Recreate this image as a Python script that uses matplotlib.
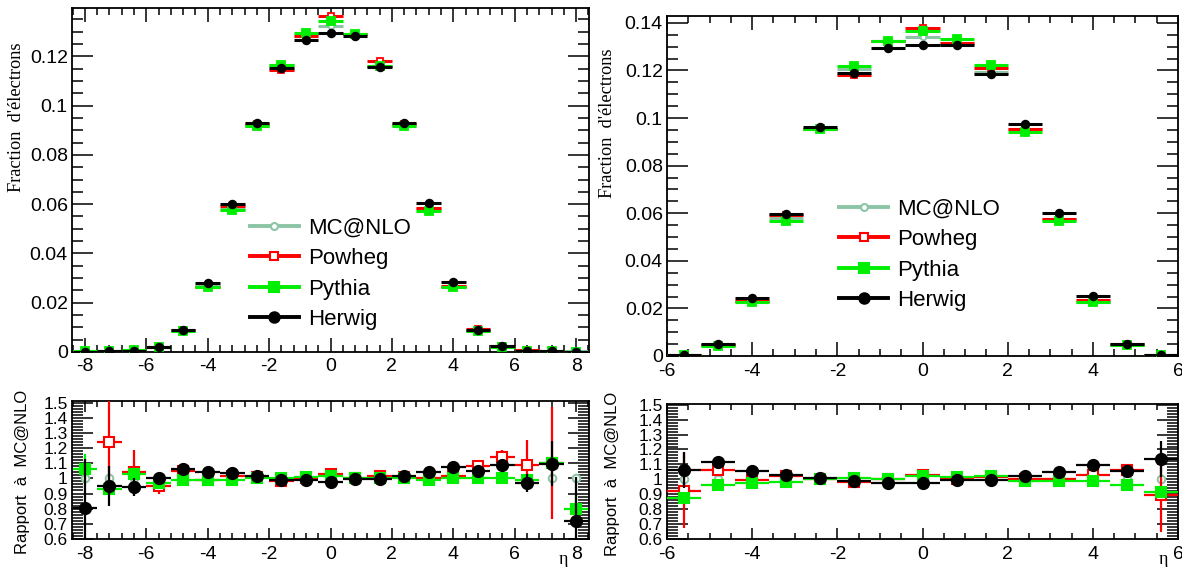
import numpy as np
import matplotlib
matplotlib.use("Agg")
import matplotlib.pyplot as plt
from matplotlib.ticker import MultipleLocator, FuncFormatter
from matplotlib.lines import Line2D

plt.rcParams["axes.unicode_minus"] = False
plt.rcParams["font.family"] = ["Liberation Sans", "DejaVu Sans"]

# ---------------- data ----------------
labels = ["MC@NLO", "Powheg", "Pythia", "Herwig"]

eta_left = [-8.0, -7.2, -6.4, -5.6, -4.8, -4.0, -3.2, -2.4, -1.6, -0.8, 0.0,
            0.8, 1.6, 2.4, 3.2, 4.0, 4.8, 5.6, 6.4, 7.2, 8.0]
mcnlo_left = [0.00025, 0.0003, 0.0006, 0.0021, 0.0085, 0.0268, 0.0582, 0.0917, 0.1166, 0.1282, 0.1322,
              0.1292, 0.1162, 0.0917, 0.0580, 0.0265, 0.0085, 0.0021, 0.0006, 0.0003, 0.00025]
ratio_powheg_left = [0.0, 1.24, 1.04, 0.95, 1.05, 0.99, 1.015, 1.01, 0.98, 1.0, 1.03,
                     1.0, 1.015, 1.01, 1.005, 1.015, 1.08, 1.14, 1.086, 1.10, 0.0]
err_powheg_left = [0.0, 0.30, 0.15, 0.05, 0.02, 0.01, 0.01, 0.01, 0.01, 0.01, 0.01,
                   0.01, 0.01, 0.01, 0.01, 0.015, 0.03, 0.05, 0.165, 0.37, 0.0]
ratio_pythia_left = [1.06, 0.93, 1.03, 0.967, 0.99, 0.99, 0.99, 1.0, 1.0, 1.01, 1.015,
                     1.0, 1.0, 1.0, 0.987, 1.0, 1.0, 1.005, 0.99, 1.10, 0.80]
err_pythia_left = [0.10, 0.04, 0.03, 0.02, 0.01, 0.01, 0.01, 0.01, 0.01, 0.01, 0.01,
                   0.01, 0.01, 0.01, 0.01, 0.01, 0.01, 0.02, 0.03, 0.05, 0.10]
ratio_herwig_left = [0.806, 0.95, 0.945, 1.0, 1.06, 1.042, 1.033, 1.015, 0.99, 0.987, 0.978,
                     0.993, 0.995, 1.015, 1.042, 1.077, 1.05, 1.086, 0.97, 1.097, 0.72]
err_herwig_left = [0.32, 0.13, 0.06, 0.02, 0.015, 0.01, 0.01, 0.01, 0.01, 0.01, 0.01,
                   0.01, 0.01, 0.01, 0.01, 0.015, 0.02, 0.03, 0.06, 0.15, 0.29]

eta_right = [-5.6, -4.8, -4.0, -3.2, -2.4, -1.6, -0.8, 0.0, 0.8, 1.6, 2.4, 3.2, 4.0, 4.8, 5.6]
mcnlo_right = [0.0003, 0.0045, 0.0233, 0.0579, 0.0953, 0.1205, 0.1326, 0.1340,
               0.1315, 0.1195, 0.0955, 0.0575, 0.0228, 0.0047, 0.0003]
ratio_powheg_right = [0.925, 1.065, 0.998, 1.02, 1.0, 0.98, 1.0, 1.03,
                      1.0, 1.013, 1.0, 1.0, 1.03, 1.065, 0.897]
err_powheg_right = [0.25, 0.04, 0.01, 0.01, 0.01, 0.01, 0.01, 0.01,
                    0.01, 0.01, 0.01, 0.01, 0.01, 0.03, 0.25]
ratio_pythia_right = [0.875, 0.96, 0.975, 0.98, 1.0, 1.01, 1.0, 1.02,
                      1.013, 1.025, 0.987, 0.987, 0.987, 0.964, 0.913]
err_pythia_right = [0.03, 0.01, 0.01, 0.01, 0.01, 0.01, 0.01, 0.01,
                    0.01, 0.01, 0.01, 0.01, 0.01, 0.01, 0.03]
ratio_herwig_right = [1.06, 1.114, 1.054, 1.03, 1.01, 0.987, 0.975, 0.975,
                      0.993, 0.993, 1.02, 1.047, 1.098, 1.054, 1.136]
err_herwig_right = [0.12, 0.02, 0.01, 0.01, 0.01, 0.01, 0.01, 0.01,
                    0.01, 0.01, 0.01, 0.01, 0.01, 0.02, 0.12]

colors = ["#8cc4a6", "#ff0000", "#00ee00", "#000000"]
markers = ["o", "s", "s", "o"]
mfcs = ["white", "white", "#00ee00", "#000000"]
ms_top = [4.0, 4.5, 5.5, 5.5]
ms_rat = [5.5, 7.0, 7.5, 8.0]

HALF_BIN = 0.4

# ---------------- figure ----------------
W, H = 1182, 567
fig = plt.figure(figsize=(W / 100, H / 100), dpi=100)


def axpx(l, t, r, b):
    return fig.add_axes([l / W, 1 - b / H, (r - l) / W, (b - t) / H])


ax_tl = axpx(72, 8, 589, 352)
ax_bl = axpx(72, 401, 589, 539)
ax_tr = axpx(667, 16, 1178, 356)
ax_br = axpx(667, 404, 1178, 539)

fmt = FuncFormatter(lambda v, p: f"{v:g}")


def style(ax, xmaj, xmin, ymaj, ymin, xl, yl, ylen, xlen, ysize, xsize, xpad):
    for s in ax.spines.values():
        s.set_linewidth(1.3)
    ax.xaxis.set_major_locator(MultipleLocator(xmaj))
    ax.xaxis.set_minor_locator(MultipleLocator(xmin))
    ax.yaxis.set_major_locator(MultipleLocator(ymaj))
    ax.yaxis.set_minor_locator(MultipleLocator(ymin))
    ax.xaxis.set_major_formatter(fmt)
    ax.yaxis.set_major_formatter(fmt)
    ax.tick_params(which="both", direction="in", top=True, right=True, width=1.1)
    ax.tick_params(axis="y", which="major", length=ylen[0], labelsize=ysize, pad=3)
    ax.tick_params(axis="y", which="minor", length=ylen[1])
    ax.tick_params(axis="x", which="major", length=xlen[0], labelsize=xsize, pad=xpad)
    ax.tick_params(axis="x", which="minor", length=xlen[1])
    ax.set_xlim(*xl)
    ax.set_ylim(*yl)


def draw_panels(ax_top, ax_rat, eta, mcnlo, rpow, epow, rpyt, epyt, rher, eher):
    eta = np.asarray(eta)
    mc = np.asarray(mcnlo)
    ratios = [np.ones_like(mc), np.asarray(rpow), np.asarray(rpyt), np.asarray(rher)]
    errs = [np.zeros_like(mc), np.asarray(epow), np.asarray(epyt), np.asarray(eher)]
    for i in range(4):
        frac = mc * ratios[i]
        ax_top.errorbar(eta, frac, xerr=HALF_BIN, fmt=markers[i], color=colors[i],
                        mfc=mfcs[i], mec=colors[i], ms=ms_top[i], mew=1.3,
                        elinewidth=2.2, capsize=0, zorder=2 + i)
        if i == 0:
            ax_rat.plot(eta, ratios[i], linestyle="none", marker="o", ms=ms_rat[i],
                        mfc="white", mec=colors[i], mew=1.4, zorder=2)
        else:
            ax_rat.errorbar(eta, ratios[i], xerr=HALF_BIN, yerr=errs[i], fmt=markers[i],
                            color=colors[i], mfc=mfcs[i], mec=colors[i], ms=ms_rat[i],
                            mew=1.5, elinewidth=1.6, capsize=0, zorder=2 + i)


draw_panels(ax_tl, ax_bl, eta_left, mcnlo_left, ratio_powheg_left, err_powheg_left,
            ratio_pythia_left, err_pythia_left, ratio_herwig_left, err_herwig_left)
draw_panels(ax_tr, ax_br, eta_right, mcnlo_right, ratio_powheg_right, err_powheg_right,
            ratio_pythia_right, err_pythia_right, ratio_herwig_right, err_herwig_right)

style(ax_tl, 2, 0.4, 0.02, 0.005, (-8.42, 8.42), (0, 0.1396), (15, 8), (10, 5), 14, 14, 4)
style(ax_tr, 2, 0.5, 0.02, 0.005, (-6, 6), (0, 0.1429), (15, 8), (10, 5), 14, 14, 5)
style(ax_bl, 2, 0.4, 0.1, 0.02, (-8.42, 8.42), (0.6, 1.51), (15, 8), (8, 4), 12.5, 14, 5)
style(ax_br, 2, 0.5, 0.1, 0.02, (-6, 6), (0.6, 1.505), (15, 8), (8, 4), 12.5, 14, 5)

# ---------------- legends ----------------
handles = [Line2D([], [], color=colors[i], lw=2.8, marker=markers[i], ms=[5, 6, 7.5, 7.5][i],
                  mfc=mfcs[i], mec=colors[i], mew=1.5) for i in range(4)]
for ax, (bx, by) in [(ax_tl, (0.344, 0.39)), (ax_tr, (0.337, 0.462))]:
    ax.legend(handles, labels, loc="upper left", bbox_to_anchor=(bx, by), frameon=False,
              fontsize=16, handlelength=2.2, handletextpad=0.4, labelspacing=0.42,
              borderpad=0, borderaxespad=0)

# ---------------- titles ----------------
serif = ["Liberation Serif", "DejaVu Serif"]
fig.text(17 / W, 1 - 42 / H, "Fraction  d'électrons", rotation=90, ha="center", va="top",
         fontsize=13.2, family=serif)
fig.text(608 / W, 1 - 48 / H, "Fraction  d'électrons", rotation=90, ha="center", va="top",
         fontsize=13.2, family=serif)
fig.text(23 / W, 1 - 390 / H, "Rapport  à  MC@NLO", rotation=90, ha="center", va="top",
         fontsize=12)
fig.text(613 / W, 1 - 392 / H, "Rapport  à  MC@NLO", rotation=90, ha="center", va="top",
         fontsize=12)
fig.text(563 / W, 1 - 559 / H, "η", ha="center", va="center", fontsize=13, family=serif)
fig.text(1163 / W, 1 - 560 / H, "η", ha="center", va="center", fontsize=13, family=serif)

fig.savefig("out.png", dpi=100)
